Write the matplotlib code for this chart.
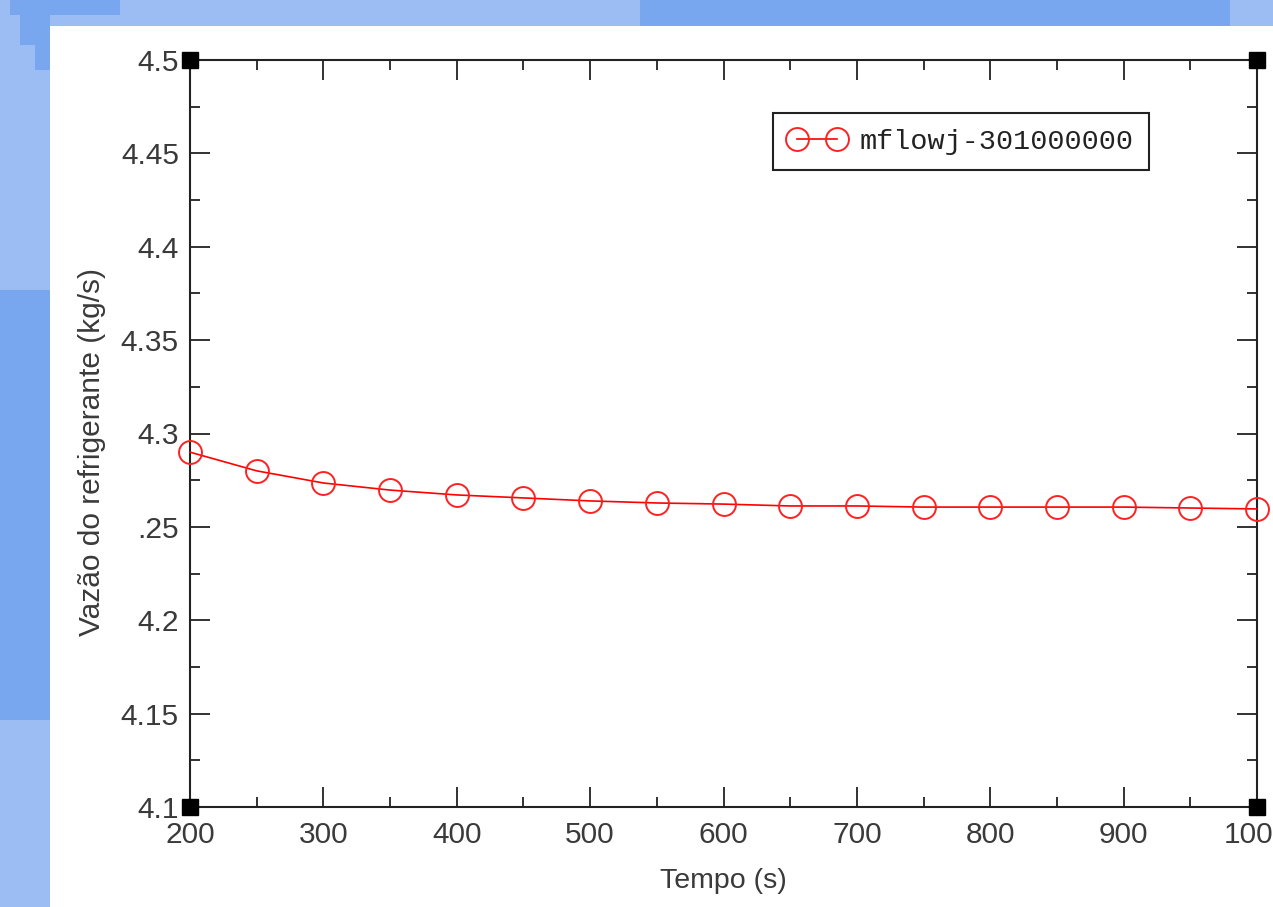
import matplotlib
matplotlib.use("Agg")
import matplotlib.pyplot as plt
from matplotlib.patches import Rectangle
from matplotlib.ticker import MultipleLocator, FixedLocator, FixedFormatter

# ---- data ----
tempo = [200, 250, 300, 350, 400, 450, 500, 550, 600, 650, 700, 750, 800, 850, 900, 950, 1000]
vazao = [4.2900, 4.2800, 4.2735, 4.2697, 4.2671, 4.2655, 4.2639, 4.2628, 4.2622,
         4.2612, 4.2612, 4.2606, 4.2606, 4.2606, 4.2606, 4.2601, 4.2596]
series_label = "mflowj-301000000"
x_ticks = [200, 300, 400, 500, 600, 700, 800, 900, 1000]
x_tick_labels = ["200", "300", "400", "500", "600", "700", "800", "900", "1000"]
y_ticks = [4.1, 4.15, 4.2, 4.25, 4.3, 4.35, 4.4, 4.45, 4.5]
y_tick_labels = ["4.1", "4.15", "4.2", ".25", "4.3", "4.35", "4.4", "4.45", "4.5"]
x_label = "Tempo (s)"
y_label = "Vazão do refrigerante (kg/s)"
xlim = (200, 1000)
ylim = (4.1, 4.5)

W, H = 1273, 907
fig = plt.figure(figsize=(W / 100, H / 100), dpi=100)
light = "#9bbdf3"
dark = "#78a7f0"
fig.patch.set_facecolor(light)

def frect(x0, y0, x1, y1, color):
    # rectangle in figure pixel coordinates (y from top)
    fig.patches.append(Rectangle((x0 / W, 1 - y1 / H), (x1 - x0) / W, (y1 - y0) / H,
                                 transform=fig.transFigure, facecolor=color,
                                 edgecolor="none", zorder=-10))

frect(640, 0, 1230, 26, dark)
frect(0, 290, 50, 720, dark)
frect(10, 0, 120, 15, dark)
frect(20, 15, 50, 45, dark)
frect(35, 45, 50, 70, dark)
frect(50, 26, W, H, "white")

ax = fig.add_axes([190 / W, 1 - 807 / H, (1257 - 190) / W, (807 - 60) / H])
ax.set_zorder(1)
ax.set_facecolor("white")

ax.plot(tempo, vazao, color="#ff0000", lw=1.2, marker="o", markersize=16.5,
        markerfacecolor="none", markeredgecolor="#ff2020", markeredgewidth=1.4,
        label=series_label, zorder=3, clip_on=False)

ax.set_xlim(*xlim)
ax.set_ylim(*ylim)

ax.xaxis.set_major_locator(FixedLocator(x_ticks))
ax.xaxis.set_major_formatter(FixedFormatter(x_tick_labels))
ax.xaxis.set_minor_locator(MultipleLocator(50))
ax.yaxis.set_major_locator(FixedLocator(y_ticks))
ax.yaxis.set_major_formatter(FixedFormatter(y_tick_labels))
ax.yaxis.set_minor_locator(MultipleLocator(0.025))

tick_font = "Liberation Sans"
ax.tick_params(which="both", direction="in", top=True, right=True, colors="#222222",
               width=1.3)
ax.tick_params(which="major", length=14.5, labelsize=21.5, pad=8, labelcolor="#3a3a3a")
ax.tick_params(axis="x", which="major", pad=10)
ax.tick_params(which="minor", length=7.5)
for lab in ax.get_xticklabels() + ax.get_yticklabels():
    lab.set_fontfamily(tick_font)

for s in ax.spines.values():
    s.set_linewidth(1.5)
    s.set_color("#222222")

ax.set_xlabel(x_label, fontsize=20.5, family=tick_font, color="#3a3a3a", labelpad=14)
ax.set_ylabel(y_label, fontsize=21.5, family=tick_font, color="#3a3a3a")
ax.yaxis.set_label_coords(-0.079, 0.475)

# corner squares
ax.plot([xlim[0], xlim[1], xlim[0], xlim[1]], [ylim[0], ylim[0], ylim[1], ylim[1]],
        ls="none", marker="s", markersize=11.5, color="black", clip_on=False, zorder=5)

leg = ax.legend(loc="upper right", bbox_to_anchor=(0.899, 0.929), borderaxespad=0,
                prop={"family": "Liberation Mono", "size": 20.5}, numpoints=2,
                handlelength=2.0, handletextpad=0.5, borderpad=0.55,
                fancybox=False, framealpha=1, edgecolor="#222222")
leg.get_frame().set_linewidth(1.5)
for t in leg.get_texts():
    t.set_color("#222222")

fig.savefig("out.png", dpi=100, facecolor=fig.get_facecolor())
